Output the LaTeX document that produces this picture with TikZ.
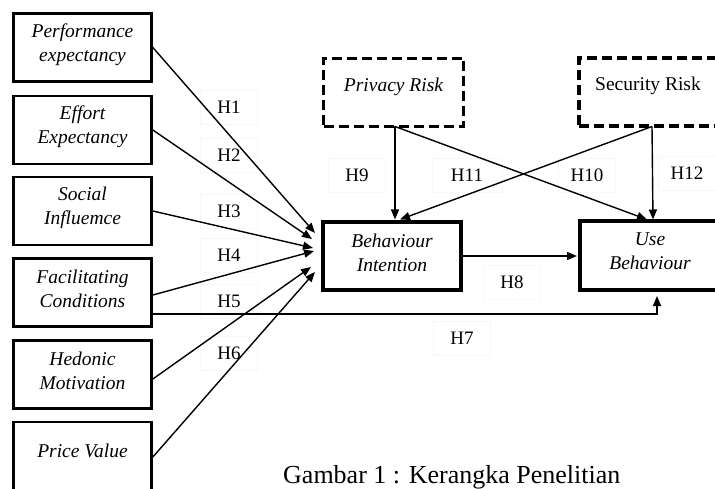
\documentclass[tikz,border=0pt]{standalone}
\usepackage{fontspec}
\setmainfont{Liberation Serif}
\usetikzlibrary{arrows.meta,calc}
\begin{document}
\begin{tikzpicture}[x=1pt,y=-1pt,
  lbox/.style={draw, line width=2.7pt, minimum width=138pt, minimum height=68pt, inner sep=0pt},
  cbox/.style={draw, line width=4pt, minimum width=138pt, minimum height=68pt, inner sep=0pt},
  dbox/.style={draw, line width=3.5pt, dash pattern=on 10pt off 5pt, minimum width=140pt, minimum height=68pt, inner sep=0pt},
  itxt/.style={align=center, font=\itshape\fontsize{19.5}{24}\selectfont, inner sep=0pt},
  rtxt/.style={align=center, font=\fontsize{19.5}{24}\selectfont, inner sep=0pt},
  hlab/.style={font=\fontsize{19}{22}\selectfont, draw=black!3, line width=0.5pt, minimum width=57pt, minimum height=34pt, inner sep=0pt},
  arr/.style={line width=1.4pt, -{Triangle[length=10pt,width=8pt]}},
]
\useasboundingbox (0,0) rectangle (715,489);
\clip (0,0) rectangle (715,489);

% faint label boxes and labels
\node[hlab] (h1) at (229,107) {H1};
\node[hlab] (h2) at (229,155) {H2};
\node[hlab] (h3) at (229,211) {H3};
\node[hlab] (h4) at (229,255) {H4};
\node[hlab] (h5) at (229,301) {H5};
\node[hlab] (h6) at (229,353) {H6};
\node[hlab] (h9) at (357,175) {H9};
\node[hlab, minimum width=70pt] (h11) at (467,175) {H11};
\node[hlab] (h10) at (587,175) {H10};
\node[hlab] (h12) at (687,173) {H12};
\node[hlab] (h8) at (512,282) {H8};
\node[hlab] (h7) at (462,338) {H7};

% left boxes
\node[lbox] (pe) at (82.5,47.5) {};
\node[itxt] (pet) at (82.5,45) {Performance\\expectancy};
\node[lbox] (ee) at (82.5,130) {};
\node[itxt] (eet) at (82.5,127) {Effort\\Expectancy};
\node[lbox] (si) at (82.5,211) {};
\node[itxt] (sit) at (82.5,208) {Social\\Influemce};
\node[lbox] (fc) at (82.5,292.5) {};
\node[itxt] (fct) at (82.5,289) {Facilitating\\Conditions};
\node[lbox] (hm) at (82.5,374.5) {};
\node[itxt] (hmt) at (82.5,370.5) {Hedonic\\Motivation};
\node[lbox, minimum height=76pt] (pv) at (82.5,460) {};
\node[itxt] (pvt) at (82.5,451) {Price Value};

% central boxes
\node[cbox] (bi) at (392,256) {};
\node[itxt] (bit) at (392,252.5) {Behaviour\\Intention};
\node[cbox, minimum width=140pt] (ub) at (650,255.5) {};
\node[itxt] (ubt) at (650,251.5) {Use\\Behaviour};

% risk boxes
\node[dbox] (pr) at (393.5,92.5) {};
\node[itxt] (prt) at (393.5,87) {Privacy Risk};
\node[dbox] (sr) at (649,92) {};
\node[rtxt] (srt) at (648,86) {Security Risk};

% arrow tips / bends
\coordinate (t1) at (315,233);
\coordinate (t2) at (312,239);
\coordinate (t3) at (313,248);
\coordinate (t4) at (314,251);
\coordinate (t5) at (311,267);
\coordinate (t6) at (315,272);
\coordinate (t7) at (657,296);
\coordinate (prb) at (395,126.5);
\coordinate (srb) at (652,126.5);
\coordinate (tpb) at (395,219.5);
\coordinate (tpu) at (647,219.5);
\coordinate (tsu) at (653,219.5);
\coordinate (tsb) at (400,219.5);
\coordinate (t8) at (577,256);

% connectors from the left boxes
\draw[arr] (pe.east) -- (t1);
\draw[arr] (ee.east) -- (t2);
\draw[arr] (si.east) -- (t3);
\draw[arr] ($(fc.east)+(0,2.5)$) -- (t4);
\draw[arr] ($(hm.east)+(0,4.5)$) -- (t5);
\draw[arr] ($(pv.east)+(0,-3)$) -- (t6);
\draw[arr] ($(fc.east)+(0,21.5)$) -| (t7);

% risk connectors
\draw[arr] (prb) -- (tpb);
\draw[arr] (prb) -- (tpu);
\draw[arr] (srb) -- (tsu);
\draw[arr] (srb) -- (tsb);

% H8
\draw[arr] (bi.east) -- (t8);

% caption
\node[anchor=base west, font=\fontsize{26}{30}\selectfont, inner sep=0pt] (cap) at (283,483) {Gambar 1 : Kerangka Penelitian};
\end{tikzpicture}
\end{document}
